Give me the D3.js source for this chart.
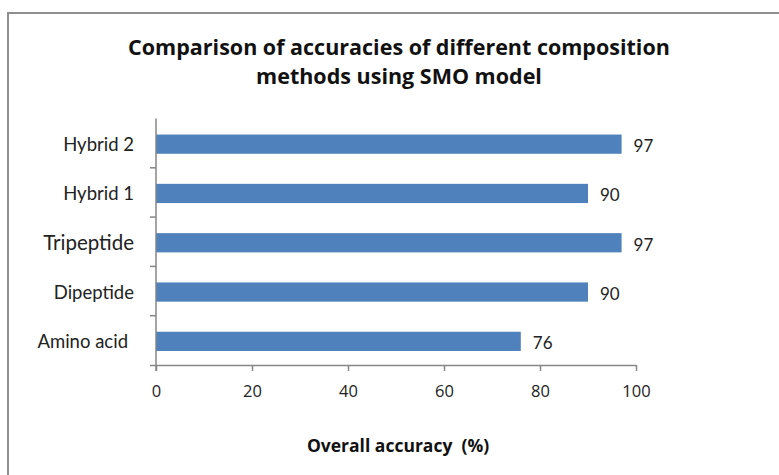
<!DOCTYPE html>
<html>
<head>
<meta charset="utf-8">
<script src="https://cdn.jsdelivr.net/npm/d3@7"></script>
<style>
  html, body { margin: 0; padding: 0; background: #fff; }
  svg { display: block; }
</style>
</head>
<body>
<svg id="chart" width="779" height="475"></svg>
<script>
// Composition methods, listed top to bottom
const categories = ["Hybrid 2", "Hybrid 1", "Tripeptide", "Dipeptide", "Amino acid"];
// Overall accuracy (%) per method
const accuracy = [97, 90, 97, 90, 76];
// Accuracy axis ticks
const xTicks = [0, 20, 40, 60, 80, 100];
const titleLines = ["Comparison of accuracies of different composition", "methods using SMO model"];
const xAxisTitle = "Overall accuracy  (%)";

const svg = d3.select("#chart");
const W = 779, H = 475;
const font = "'Open Sans', Lato, sans-serif";
const labelFont = "Lato, 'Open Sans', sans-serif";
const axisColor = "#868686";
const barColor = "#4F81BD";

// Outer chart frame (runs off the right and bottom edges)
svg.append("rect")
  .attr("x", 8).attr("y", 13).attr("width", W).attr("height", H)
  .attr("fill", "#fff").attr("stroke", "#8e8e8e").attr("stroke-width", 2);

// Title
const title = svg.append("text")
  .attr("text-anchor", "middle")
  .attr("font-family", font).attr("font-weight", "bold")
  .attr("font-size", 21.5).attr("fill", "#111");
titleLines.forEach((t, i) => {
  title.append("tspan").attr("x", 399).attr("y", 55 + i * 29).text(t);
});

const plot = { left: 156, right: 636, top: 118.5, bottom: 365 };

const x = d3.scaleLinear().domain([0, 100]).range([plot.left, plot.right]);
const y = d3.scaleBand().domain(categories).range([plot.top, plot.bottom]).paddingInner(0.61).paddingOuter(0.305);
const yTicks = d3.scaleBand().domain(categories).range([plot.top, plot.bottom]);

// Bars
svg.append("g").selectAll("rect")
  .data(categories)
  .join("rect")
  .attr("x", x(0))
  .attr("y", d => y(d) + 1)
  .attr("width", (d, i) => x(accuracy[i]) - x(0))
  .attr("height", y.bandwidth())
  .attr("fill", barColor);

// Value labels at bar ends
svg.append("g").selectAll("text")
  .data(categories)
  .join("text")
  .attr("x", (d, i) => x(accuracy[i]) + 12)
  .attr("y", d => y(d) + 1 + y.bandwidth() / 2 + 2)
  .attr("dy", "0.35em")
  .attr("font-family", labelFont).attr("font-size", 17).attr("fill", "#222")
  .text((d, i) => accuracy[i]);

// X axis
const xAxis = svg.append("g")
  .attr("transform", `translate(0,${plot.bottom})`)
  .call(d3.axisBottom(x).tickValues(xTicks).tickSize(6).tickPadding(14).tickSizeOuter(0));
xAxis.select(".domain").attr("stroke", axisColor).attr("stroke-width", 1.5)
  .attr("d", `M${plot.left - 6},0.5H${plot.right}`);
xAxis.selectAll(".tick line").attr("stroke", axisColor).attr("stroke-width", 1.5);
xAxis.selectAll(".tick text").attr("font-family", font).attr("font-size", 16.5).attr("fill", "#222");

// Y axis: ticks fall on category boundaries
const yAxisG = svg.append("g").attr("transform", `translate(${plot.left},0)`);
yAxisG.append("line")
  .attr("x1", 0).attr("x2", 0).attr("y1", plot.top).attr("y2", plot.bottom + 6)
  .attr("stroke", axisColor).attr("stroke-width", 1.5);
yAxisG.selectAll("line.tick")
  .data(categories.slice(1))
  .join("line").attr("class", "tick")
  .attr("x1", -6).attr("x2", 0)
  .attr("y1", d => yTicks(d)).attr("y2", d => yTicks(d))
  .attr("stroke", axisColor).attr("stroke-width", 1.5);

// Category labels
svg.append("g").selectAll("text")
  .data(categories)
  .join("text")
  .attr("x", d => d === "Amino acid" ? 128 : 134)
  .attr("y", d => y(d) + 1 + y.bandwidth() / 2)
  .attr("dy", "0.35em")
  .attr("text-anchor", "end")
  .attr("font-family", labelFont)
  .attr("font-size", d => d === "Tripeptide" ? 20.5 : 18.5)
  .attr("fill", "#222")
  .text(d => d);

// X axis title (keeps its double space)
svg.append("text")
  .attr("x", 398).attr("y", 452)
  .attr("text-anchor", "middle")
  .attr("font-family", font).attr("font-weight", "bold")
  .attr("font-size", 17.5).attr("fill", "#111")
  .style("white-space", "pre")
  .text(xAxisTitle);
</script>
</body>
</html>
